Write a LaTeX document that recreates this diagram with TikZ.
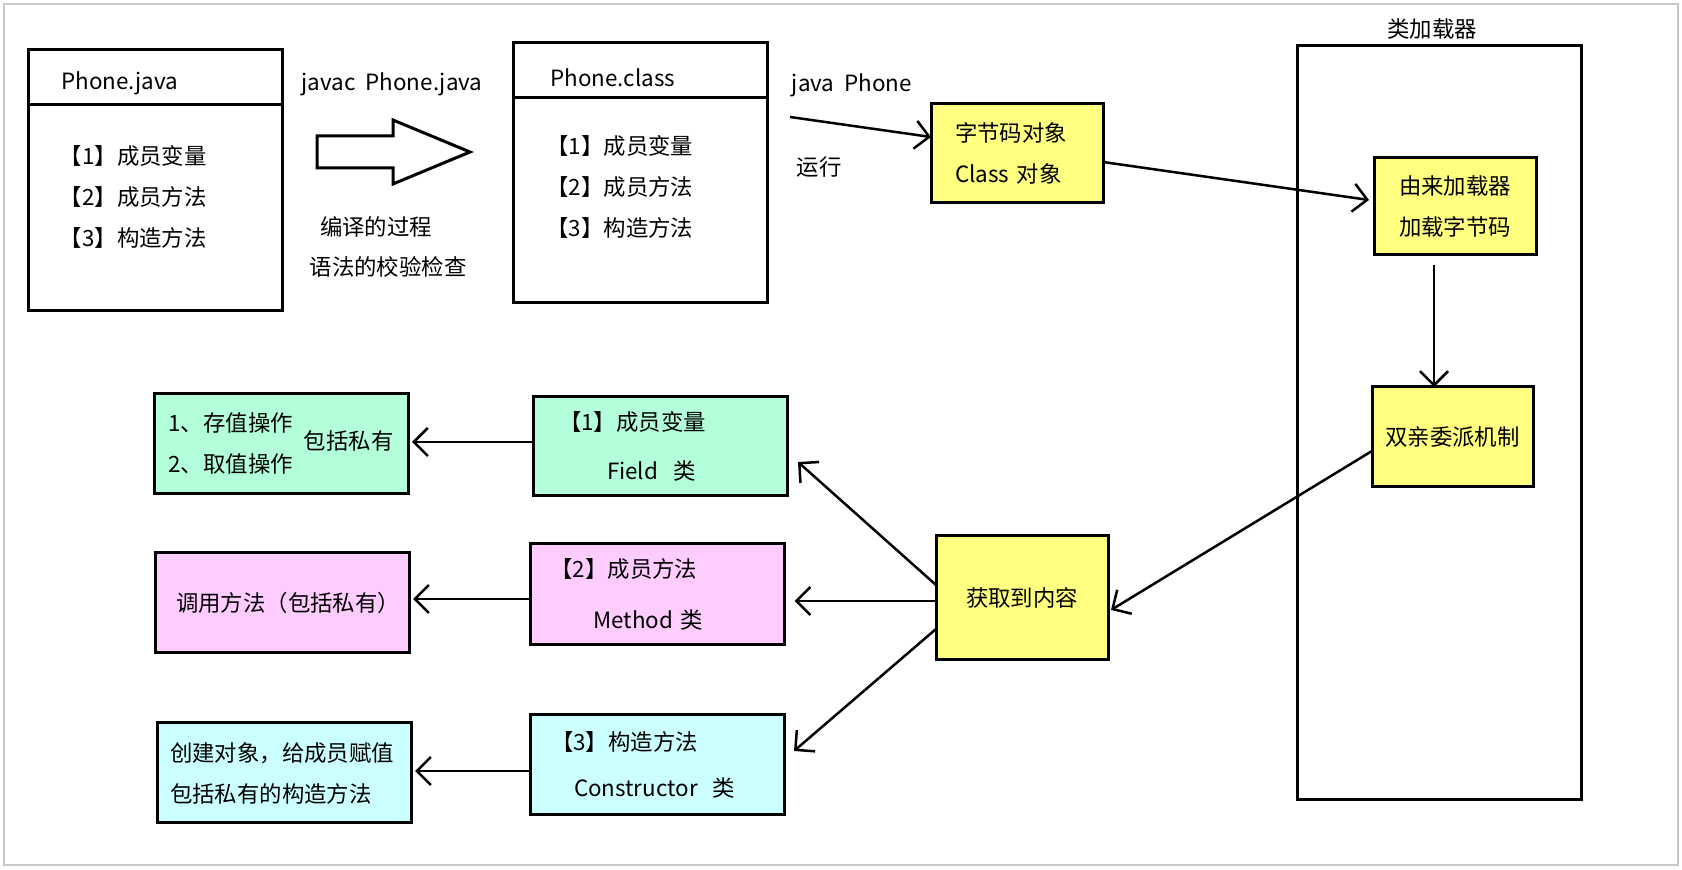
\documentclass[tikz,border=0pt]{standalone}
\usepackage{fontspec}
\setmainfont{Noto Sans CJK SC}
\usepackage{xcolor}
\usepackage{tikz}
\usetikzlibrary{positioning,arrows.meta}

\definecolor{boxyellow}{HTML}{FFFF80}
\definecolor{boxgreen}{HTML}{B3FFD9}
\definecolor{boxpink}{HTML}{FFCCFF}
\definecolor{boxcyan}{HTML}{CCFFFF}
\newcommand{\dgfont}{\fontsize{11.2}{20.5}\selectfont}

\begin{document}
\begin{tikzpicture}[
  x=0.5pt, y=-0.5pt,
  box/.style={draw, line width=1.5pt, inner sep=0pt, outer sep=0pt, font=\dgfont},
  hd/.style={box, minimum width=127pt, minimum height=27.5pt},
  ybox/.style={box, fill=boxyellow, align=center},
  gbox/.style={box, fill=boxgreen, align=left},
  pbox/.style={box, fill=boxpink, align=left},
  cbox/.style={box, fill=boxcyan, align=left},
  txt/.style={inner sep=0pt, align=left, font=\dgfont},
  arr/.style={-{Straight Barb[length=7pt, width=14pt]}, line width=1.25pt}]
\useasboundingbox (0,0) rectangle (1682,870);
\draw[black!22, line width=0.6pt] (4,4) rectangle (1678,865);

% source file and compiled class
\node[hd, anchor=north west] (jhead) at (28,50) {};
\node[txt, right=16.5pt of jhead.west, yshift=-3pt] (jname) {Phone.java};
\node[box, minimum width=127pt, minimum height=103pt, below=0pt of jhead] (jbody) {};
\node[txt, right=15.75pt of jbody.west, yshift=5.5pt] (jitems) {【1】成员变量\\【2】成员方法\\【3】构造方法};

\node[txt] (javac) at (392,84) {javac\ \ Phone.java};
\draw[line width=1.5pt] (317,136) -- (393,136) -- (393,120) -- (470,152) -- (393,184) -- (393,168) -- (317,168) -- cycle;
\node[txt] (compile) at (376,227) {编译的过程};
\node[txt] (syntax) at (388,267) {语法的校验检查};

\node[hd, anchor=north west] (chead) at (513,43) {};
\node[txt, right=18.5pt of chead.west, yshift=-3.5pt] (cname) {Phone.class};
\node[box, minimum width=127pt, minimum height=102.5pt, below=0pt of chead] (cbody) {};
\node[txt, right=16.5pt of cbody.west, yshift=7pt] (citems) {【1】成员变量\\【2】成员方法\\【3】构造方法};

% running
\node[txt] (javarun) at (852,85) {java\ \ Phone};
\coordinate (runstart) at (790,117);
\node[txt] (runlbl) at (819,167) {运行};
\node[ybox, minimum width=86pt, minimum height=49.5pt, text width=62pt, inner xsep=12pt, align=left] (bytecode) at (1017,153.5) {字节码对象\\Class 对象};

% class loader
\node[box, minimum width=142pt, minimum height=377pt, anchor=north west] (loader) at (1297,46) {};
\node[txt, above=3pt of loader, xshift=-3.5pt] (loadertitle) {类加载器};
\node[ybox, minimum width=81pt, minimum height=48.5pt] (byloader) at (1455,206.5) {由来加载器\\加载字节码};
\node[ybox, minimum width=80.5pt, minimum height=50pt] (parent) at (1452.5,437) {双亲委派机制};
\node[ybox, minimum width=86pt, minimum height=62pt] (fetch) at (1022,598) {获取到内容};

% reflection classes
\node[gbox, minimum width=127pt, minimum height=49.5pt, text width=94pt, inner xsep=16.5pt] (field) at (660,446.5) {\hspace{-3.5pt}【1】成员变量\\[4pt]\hspace{20.5pt}Field\ \ 类};
\node[pbox, minimum width=127pt, minimum height=50.5pt, text width=102pt, inner xsep=12.5pt] (method) at (657.5,594.5) {\hspace{-2.5pt}【2】成员方法\\[5pt]\hspace{19pt}Method 类};
\node[cbox, minimum width=127pt, minimum height=50pt, text width=102pt, inner xsep=12.5pt] (ctor) at (657,765) {\hspace{-2pt}【3】构造方法\\[2.5pt]\hspace{9.5pt}Constructor\ \ 类};

% what can be done
\node[gbox, minimum width=127pt, minimum height=50pt] (store) at (281,444) {\begin{tabular}{@{}l@{}}1、存值操作\\2、取值操作\end{tabular}\hspace{5.5pt}包括私有};
\node[pbox, minimum width=127pt, minimum height=50pt, text width=106pt, inner xsep=10.5pt] (call) at (282,603) {调用方法（包括私有）};
\node[cbox, minimum width=127pt, minimum height=50pt, text width=114pt, inner xsep=6.5pt] (create) at (284,773) {创建对象，给成员赋值\\包括私有的构造方法};

\draw[arr] (runstart) -- ([yshift=8.25pt]bytecode.west);
\draw[arr] ([yshift=-4.25pt]bytecode.east) -- ([xshift=-2.5pt,yshift=3.25pt]byloader.west);
\coordinate (dn) at ([xshift=-10.5pt,yshift=-5pt]byloader.south);
\draw[arr] (dn) -- (dn |- parent.north);
\draw[arr] ([yshift=-7pt]parent.west) -- ([xshift=1.5pt,yshift=-6pt]fetch.east);
\draw[arr] ([yshift=6.5pt]fetch.west) -- ([xshift=5.5pt,yshift=-7.75pt]field.east);
\draw[arr] ([yshift=-1.5pt]fetch.west) -- ([xshift=5pt,yshift=-3.25pt]method.east);
\draw[arr] ([yshift=-15.5pt]fetch.west) -- ([xshift=5pt,yshift=7pt]ctor.east);
\coordinate (fw) at ([yshift=2.25pt]field.west);
\draw[arr, shorten >=2pt] (fw) -- (fw -| store.east);
\coordinate (mw) at ([yshift=-2.25pt]method.west);
\draw[arr, shorten >=2pt] (mw) -- (mw -| call.east);
\coordinate (cw) at ([yshift=-3pt]ctor.west);
\draw[arr, shorten >=2pt] (cw) -- (cw -| create.east);
\end{tikzpicture}
\end{document}
